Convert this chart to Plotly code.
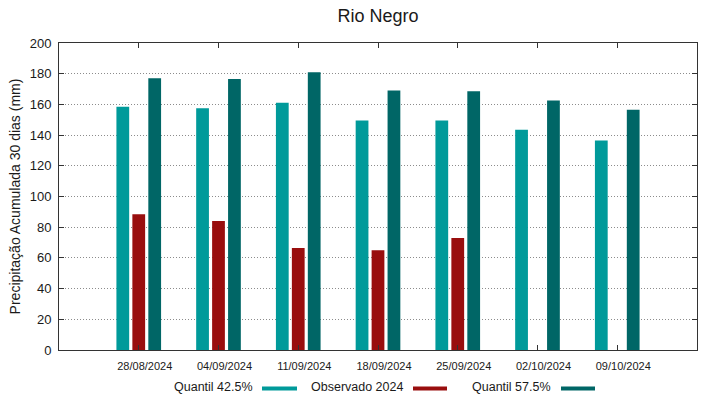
import plotly.graph_objects as go

# ---- data ----
dates = ["28/08/2024", "04/09/2024", "11/09/2024", "18/09/2024",
         "25/09/2024", "02/10/2024", "09/10/2024"]
q425 = [158.5, 157.5, 161, 149.5, 149.5, 143.5, 136.5]
obs2024 = [88.5, 84, 66.5, 65, 73, None, None]
q575 = [177, 176.5, 181, 169, 168.5, 162.5, 156.5]
series_names = ["Quantil 42.5%", "Observado 2024", "Quantil 57.5%"]
colors = ["#009a9a", "#990e0e", "#006666"]
y_ticks = [0, 20, 40, 60, 80, 100, 120, 140, 160, 180, 200]

FONT = "Liberation Sans, Arial, sans-serif"
W, H = 719, 399
L, R, T, B = 59, 22, 43, 49
pw, ph = W - L - R, H - T - B

fig = go.Figure()
for name, vals, col in zip(series_names, [q425, obs2024, q575], colors):
    fig.add_trace(go.Bar(x=dates, y=vals, name=name, marker_color=col,
                         marker_line_width=0, showlegend=False))

# screen pixel -> paper coordinates
def px_x(p):
    return (p - L) / pw

def px_y(p):
    return (H - B - p) / ph

# custom gnuplot-like legend: text then colour sample
legend_pos = [(255, 262, 297), (405, 413, 447), (553, 561, 595)]
anns = []
shapes = []
for (tx, s0, s1), name, col in zip(legend_pos, series_names, colors):
    anns.append(dict(text=name, x=px_x(tx), y=px_y(387), xref="paper", yref="paper",
                     xanchor="right", yanchor="middle", showarrow=False,
                     font=dict(family=FONT, size=12.5, color="#1a1a1a")))
    shapes.append(dict(type="rect", xref="paper", yref="paper",
                       x0=px_x(s0), x1=px_x(s1), y0=px_y(390.5), y1=px_y(386.5),
                       fillcolor=col, line_width=0))

fig.update_layout(
    width=W, height=H,
    margin=dict(l=L, r=R, t=T, b=B, autoexpand=False),
    paper_bgcolor="white", plot_bgcolor="white",
    barmode="group", bargap=0.4, bargroupgap=0.2,
    font=dict(family=FONT, color="#1a1a1a"),
    title=dict(text="Rio Negro", x=0.5, xref="paper", y=1 - 16 / H, yref="container",
               xanchor="center", yanchor="middle", font=dict(size=18, family=FONT)),
    annotations=anns, shapes=shapes,
)
fig.update_xaxes(
    type="category", range=[-1, 7],
    showline=True, linecolor="#333333", linewidth=1, mirror="allticks",
    ticks="inside", ticklen=5, tickcolor="#333333",
    showgrid=False, tickfont=dict(size=11), ticklabelshift=6,
    ticklabelstandoff=6,
)
fig.update_yaxes(
    range=[0, 200], tickvals=y_ticks,
    showline=True, linecolor="#333333", linewidth=1, mirror="allticks",
    ticks="inside", ticklen=5, tickcolor="#333333",
    showgrid=True, gridcolor="#8c8c8c", griddash="1px,2px", gridwidth=1,
    zeroline=False, tickfont=dict(size=13), ticklabelstandoff=4,
    title=dict(text="Precipitação Acumulada 30 dias (mm)", font=dict(size=14), standoff=5),
)

fig.write_html("out.html",
               config={"displayModeBar": False},
               post_script="document.body.style.margin='0';document.body.style.overflow='hidden';")
